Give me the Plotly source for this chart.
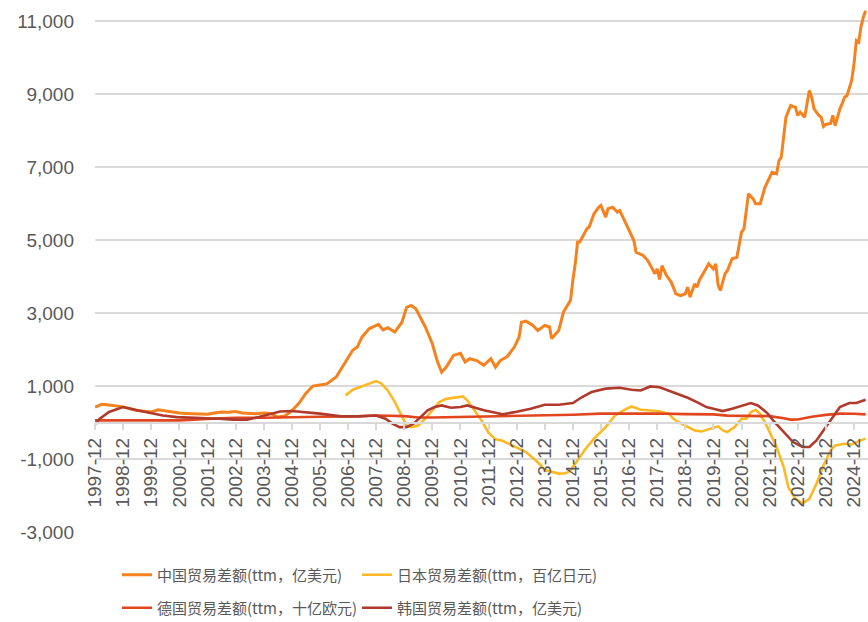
import plotly.graph_objects as go

# ---------------- data ----------------
china_months = ["1997-12","1998-03","1998-06","1998-09","1998-12","1999-03","1999-06","1999-09","1999-12",
"2000-03","2000-06","2000-09","2000-12","2001-03","2001-06","2001-09","2001-12","2002-03","2002-06","2002-09","2002-12",
"2003-03","2003-06","2003-09","2003-12","2004-03","2004-06","2004-09","2004-12","2005-03","2005-06","2005-09","2005-12",
"2006-03","2006-07","2006-11","2007-02","2007-04","2007-06","2007-09","2008-01","2008-03","2008-05","2008-08","2008-11",
"2009-01","2009-03","2009-05","2009-09","2009-12","2010-02","2010-04","2010-06","2010-09","2010-12","2011-02","2011-04",
"2011-07","2011-10","2012-01","2012-03","2012-05","2012-08","2012-11","2013-01","2013-02","2013-04","2013-07","2013-09",
"2013-12","2014-02","2014-03","2014-06","2014-08","2014-11","2014-12","2015-01","2015-02","2015-03","2015-06","2015-07",
"2015-09","2015-11","2015-12","2016-02","2016-03","2016-05","2016-07","2016-08","2016-10","2016-12","2017-02","2017-03",
"2017-06","2017-08","2017-10","2017-11","2017-12","2018-01","2018-02","2018-04","2018-06","2018-08","2018-10","2018-12",
"2019-01","2019-02","2019-04","2019-05","2019-06","2019-08","2019-10","2019-12","2020-01","2020-02","2020-03","2020-05",
"2020-06","2020-08","2020-10","2020-12","2021-01","2021-03","2021-05","2021-06","2021-08","2021-10","2021-11","2022-01",
"2022-03","2022-04","2022-05","2022-06","2022-07","2022-09","2022-11","2022-12","2023-01","2023-03","2023-05","2023-06",
"2023-07","2023-09","2023-10","2023-11","2023-12","2024-02","2024-03","2024-04","2024-06","2024-07","2024-08","2024-09",
"2024-11","2024-12","2025-01","2025-02","2025-03","2025-04","2025-05"]
china_values = [424,500,480,450,430,380,330,310,290,
350,320,280,260,250,240,225,225,260,290,280,305,
260,245,240,260,250,150,180,320,520,800,1000,1030,
1060,1250,1650,1980,2070,2340,2570,2690,2540,2600,2480,2750,
3160,3210,3120,2620,2160,1700,1380,1520,1840,1900,1660,1750,
1700,1570,1750,1520,1700,1810,2070,2340,2750,2780,2660,2525,
2660,2620,2300,2525,3030,3350,3900,4350,4950,4950,5310,5360,
5720,5900,5950,5630,5860,5900,5770,5810,5540,5265,4990,4670,
4580,4440,4170,4080,4215,3920,4300,4030,3850,3530,3480,3530,
3710,3440,3800,3710,3895,4120,4350,4215,4350,3760,3620,4080,
4170,4490,4530,5220,5310,6270,6130,6000,6000,6450,6590,6860,
6820,7180,7270,7820,8370,8690,8640,8420,8510,8370,9100,8920,
8600,8420,8370,8115,8170,8200,8420,8140,8600,8740,8920,8960,
9375,9830,10470,10425,10840,11110,11290]

japan_months = ["2006-11","2007-02","2007-05","2007-08","2007-12","2008-02","2008-05","2008-08","2008-11","2009-01",
"2009-03","2009-06","2009-09","2009-12","2010-03","2010-06","2010-10","2011-01","2011-03","2011-06","2011-09","2011-12",
"2012-03","2012-06","2012-10","2013-01","2013-04","2013-07","2013-10","2013-12","2014-03","2014-06","2014-09","2014-11",
"2015-01","2015-03","2015-05","2015-09","2016-02","2016-06","2016-10","2017-01","2017-05","2017-09","2018-01","2018-05",
"2018-07","2018-09","2019-01","2019-04","2019-07","2019-11","2020-02","2020-04","2020-06","2020-09","2020-12","2021-02",
"2021-04","2021-06","2021-08","2021-11","2022-03","2022-06","2022-08","2022-11","2023-02","2023-05","2023-08","2023-11",
"2024-02","2024-04","2024-08","2024-11","2025-01","2025-05"]
japan_values = [745,900,970,1040,1135,1080,880,560,195,-80,
-125,-80,105,335,560,650,680,715,610,335,60,-280,
-460,-500,-620,-720,-810,-970,-1150,-1300,-1360,-1400,-1390,-1310,
-1130,-950,-760,-440,-125,195,350,440,350,330,310,240,
105,15,-125,-215,-245,-170,-105,-215,-260,-125,105,105,
285,350,240,-125,-670,-1220,-1770,-2090,-2220,-2090,-1680,-1175,
-765,-625,-580,-600,-535,-440]

germany_months = ["1997-12","1999-12","2000-12","2001-12","2002-12","2003-12","2004-12","2005-12","2006-12","2007-12",
"2008-12","2009-06","2009-12","2010-12","2011-12","2012-12","2013-12","2014-12","2015-12","2016-12","2017-12","2018-12",
"2019-12","2020-06","2020-12","2021-06","2021-12","2022-06","2022-09","2022-12","2023-06","2023-12","2024-06","2024-12","2025-05"]
germany_values = [60,65,60,100,130,130,155,160,165,195,
175,140,140,155,160,190,200,215,245,250,250,230,
225,190,185,200,175,120,80,85,160,210,245,240,225]

korea_months = ["1997-12","1998-02","1998-06","1998-12","1999-06","1999-12","2000-05","2000-11","2001-05","2001-12",
"2002-05","2002-11","2003-05","2003-10","2004-03","2004-07","2004-12","2005-06","2005-12","2006-09","2007-05","2007-12",
"2008-04","2008-07","2008-10","2009-01","2009-04","2009-07","2009-10","2010-01","2010-04","2010-08","2010-12","2011-03",
"2011-06","2011-10","2012-02","2012-06","2012-11","2013-06","2013-12","2014-06","2014-12","2015-04","2015-08","2016-02",
"2016-08","2017-01","2017-05","2017-09","2018-01","2018-05","2018-09","2019-01","2019-05","2019-09","2019-12","2020-04",
"2020-08","2021-01","2021-04","2021-07","2021-11","2022-02","2022-06","2022-10","2023-02","2023-05","2023-08","2023-12",
"2024-03","2024-06","2024-10","2025-01","2025-05"]
korea_values = [-40,105,290,425,335,260,195,150,135,135,
105,80,80,150,240,305,315,285,245,170,170,195,
105,-30,-125,-125,-30,150,335,425,470,405,425,470,
405,340,285,225,285,380,490,490,535,700,835,930,
955,900,880,990,970,880,770,680,560,425,380,315,
380,470,535,470,260,15,-260,-535,-670,-670,-490,-125,
150,425,535,535,625]

series_names = ["中国贸易差额(ttm，亿美元)", "日本贸易差额(ttm，百亿日元)",
                "德国贸易差额(ttm，十亿欧元)", "韩国贸易差额(ttm，亿美元)"]
y_ticks = [-3000, -1000, 1000, 3000, 5000, 7000, 9000, 11000]
y_tick_labels = ["-3,000", "-1,000", "1,000", "3,000", "5,000", "7,000", "9,000", "11,000"]

# ---------------- figure ----------------
def to_dates(ms):
    return [m + "-01" for m in ms]

W, H = 868, 622
ML, MR, MT, MB = 95, 0, 3, 90
plot_w = W - ML - MR
plot_h = H - MT - MB

colors = ["#F5821F", "#FDB924", "#E2461F", "#B03A2B"]
widths = [3, 2.6, 2.6, 2.6]
legend_ids = ["legend", "legend2", "legend3", "legend4"]
# legend item anchor positions in pixels (left of item, vertical centre)
leg_px = [(117, 575), (357, 575), (117, 608), (357, 608)]

data = [(china_months, china_values), (japan_months, japan_values),
        (germany_months, germany_values), (korea_months, korea_values)]

fig = go.Figure()
for (ms, vs), name, c, w, lg in zip(data, series_names, colors, widths, legend_ids):
    fig.add_trace(go.Scatter(x=to_dates(ms), y=vs, mode="lines", name=name,
                             line=dict(color=c, width=w), legend=lg))

ymin, ymax = -3000, 11500
zero_pos = (0 - ymin) / (ymax - ymin)

tick_font = dict(family="Liberation Sans, Arial, sans-serif", size=19, color="#595959")
leg_font = dict(family="Noto Sans CJK SC, Liberation Sans, sans-serif", size=15, color="#595959")

legend_layout = {}
for lg, (px, py) in zip(legend_ids, leg_px):
    legend_layout[lg] = dict(
        orientation="h", x=(px - ML) / plot_w, xanchor="left",
        y=(H - MB - py) / plot_h, yanchor="middle",
        font=leg_font, bgcolor="rgba(0,0,0,0)", borderwidth=0)

fig.update_layout(
    width=W, height=H,
    margin=dict(l=ML, r=MR, t=MT, b=MB, autoexpand=False),
    paper_bgcolor="white", plot_bgcolor="white",
    showlegend=True,
    xaxis=dict(type="date", range=["1997-12-01", "2025-06-01"],
               tick0="1997-12-01", dtick="M12", tickformat="%Y-%m", tickangle=-90,
               anchor="free", position=zero_pos, automargin=False,
               showline=True, linecolor="#d9d9d9", linewidth=1.5,
               ticks="outside", ticklen=7, tickcolor="#d9d9d9", tickwidth=1.5,
               showgrid=False, zeroline=False, tickfont=tick_font),
    yaxis=dict(range=[ymin, ymax], tickvals=y_ticks, ticktext=y_tick_labels, automargin=False,
               showgrid=True, gridcolor="#d9d9d9", gridwidth=1.5,
               zeroline=False, showline=False, ticks="", ticklabelstandoff=20,
               tickfont=tick_font),
    **legend_layout,
)

fig.write_html("out.html", config={"displayModeBar": False},
               post_script="document.body.style.margin='0';document.body.style.padding='0';")
